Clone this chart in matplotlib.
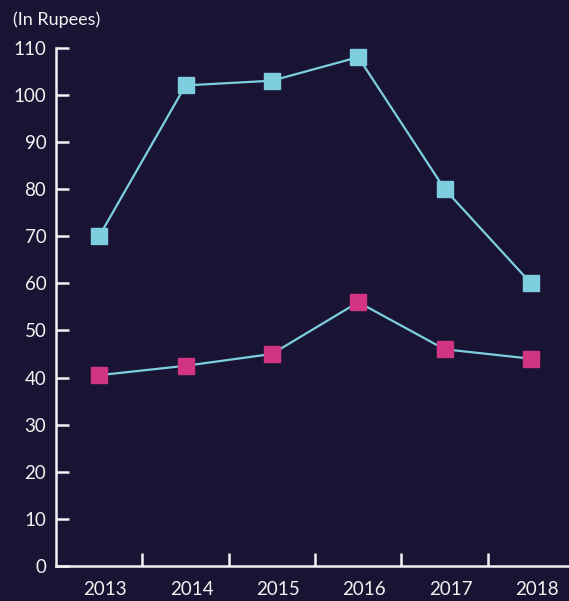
import matplotlib.pyplot as plt
import matplotlib.transforms as mtransforms

# Prix annuels (en roupies)
annees = ['2013', '2014', '2015', '2016', '2017', '2018']
serie_haute = [70, 102, 103, 108, 80, 60]
serie_basse = [40.5, 42.5, 45, 56, 46, 44]

fond = '#191433'
cyan = '#7dcfe0'
magenta = '#d03482'
blanc = '#f2f2f2'

plt.rcParams['font.family'] = ['Lato', 'DejaVu Sans']

fig = plt.figure(figsize=(5.69, 6.01), dpi=100, facecolor=fond)
ax = fig.add_axes([0.0984, 0.0582, 0.9016, 0.8624], facecolor=fond)

x = list(range(len(annees)))

# Courbe haute
ax.plot(x, serie_haute, color=cyan, lw=1.6, marker='s', ms=11.5,
        mfc=cyan, mec=cyan, zorder=3, clip_on=False)
# Courbe basse (trait cyan, carrés magenta)
ax.plot(x, serie_basse, color=cyan, lw=1.6, marker='s', ms=11.5,
        mfc=magenta, mec=magenta, zorder=3, clip_on=False)

ax.set_xlim(-0.5, 5.44)
ax.set_ylim(0, 110)
ax.set_yticks(range(0, 111, 10))

# Années au centre, petits traits aux séparations
ax.set_xticks(x)
ax.set_xticklabels(annees)
ax.set_xticks([i + 0.5 for i in range(len(annees) - 1)], minor=True)
ax.tick_params(axis='x', which='major', length=0, pad=11, labelsize=13.5,
               colors=blanc)
ax.tick_params(axis='x', which='minor', direction='in', length=9.5,
               width=1.8, color=blanc)
ax.tick_params(axis='y', direction='in', length=9, width=1.8, pad=7,
               labelsize=13.5, colors=blanc)

decalage = mtransforms.ScaledTranslation(6 / 100, 0, fig.dpi_scale_trans)
for lab in ax.get_xticklabels():
    lab.set_transform(lab.get_transform() + decalage)

for cote in ['top', 'right']:
    ax.spines[cote].set_visible(False)
for cote in ['left', 'bottom']:
    ax.spines[cote].set_color(blanc)
    ax.spines[cote].set_linewidth(1.8)

fig.text(0.022, 0.967, '(In Rupees)', color=blanc, fontsize=13,
         ha='left', va='center')

fig.savefig('out.png', dpi=100, facecolor=fond)
